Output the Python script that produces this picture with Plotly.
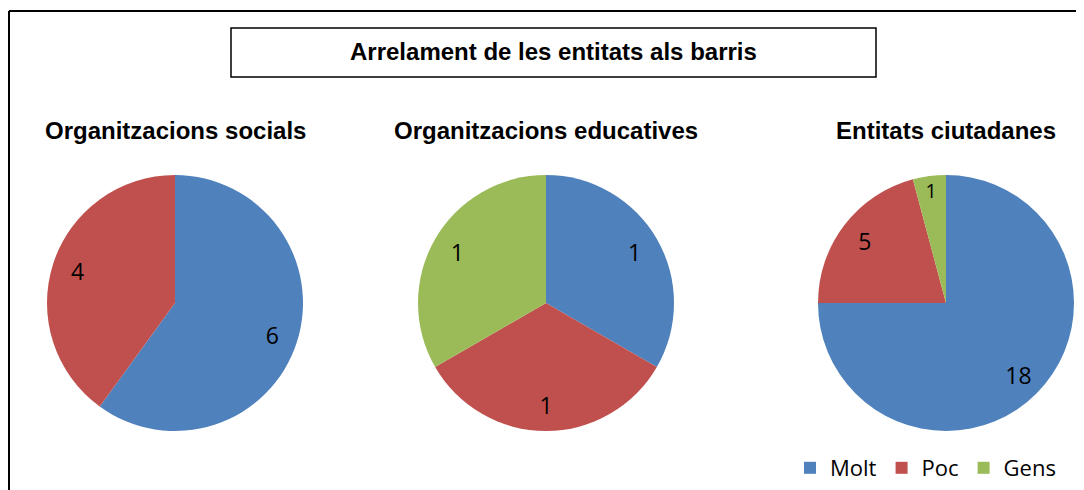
import plotly.graph_objects as go

W, H = 1084, 490
OFF = 8  # page body margin, so reference pixels are shifted by this

categories = ["Molt", "Poc", "Gens"]
colors = ["#4F81BD", "#C0504D", "#9BBB59"]

socials = [6, 4, 0]
educatives = [1, 1, 1]
ciutadanes = [18, 5, 1]

pie_titles = ["Organitzacions socials", "Organitzacions educatives", "Entitats ciutadanes"]
main_title = "Arrelament de les entitats als barris"

# pie centres in reference pixels
centres_x = [175, 546, 946]
centre_y = 303
radius = 128


def px_x(v):
    return (v - OFF) / W


def px_y(v):
    return 1 - (v - OFF) / H


fig = go.Figure()

for i, (vals, title, cx) in enumerate(zip([socials, educatives, ciutadanes], pie_titles, centres_x)):
    dom = dict(x=[px_x(cx - radius), px_x(cx + radius)],
               y=[px_y(centre_y + radius), px_y(centre_y - radius)])
    fig.add_trace(go.Pie(
        labels=categories,
        values=vals,
        sort=False,
        direction="clockwise",
        rotation=0,
        marker=dict(colors=colors, line=dict(width=0)),
        textinfo="none",
        domain=dom,
        showlegend=(i == 2),
        hoverinfo="label+value",
    ))
    # transparent ring on top, only to place the value labels further out
    fig.add_trace(go.Pie(
        labels=categories,
        values=vals,
        sort=False,
        direction="clockwise",
        rotation=0,
        hole=0.6,
        marker=dict(colors=["rgba(0,0,0,0)"] * 3, line=dict(width=0)),
        textinfo="value",
        textposition="inside",
        insidetextorientation="horizontal",
        textfont=dict(family="Open Sans, sans-serif", size=23, color="black"),
        domain=dom,
        showlegend=False,
        hoverinfo="skip",
    ))
    fig.add_annotation(
        x=px_x(cx), y=px_y(130), xref="paper", yref="paper",
        text="<b>" + title + "</b>", showarrow=False,
        font=dict(family="Liberation Sans, Arial, sans-serif", size=24, color="black"),
        xanchor="center", yanchor="middle",
    )

# title box
fig.add_shape(type="rect", xref="paper", yref="paper",
              x0=px_x(231), x1=px_x(876), y0=px_y(77), y1=px_y(28),
              line=dict(color="black", width=1.5), fillcolor="white", layer="below")
fig.add_annotation(
    x=px_x(553), y=px_y(52), xref="paper", yref="paper",
    text="<b>" + main_title + "</b>", showarrow=False,
    font=dict(family="Liberation Sans, Arial, sans-serif", size=24, color="black"),
    xanchor="center", yanchor="middle",
)

# outer frame: top and left edges
fig.add_shape(type="line", xref="paper", yref="paper",
              x0=px_x(9), x1=1, y0=px_y(11), y1=px_y(11),
              line=dict(color="black", width=2))
fig.add_shape(type="line", xref="paper", yref="paper",
              x0=px_x(9), x1=px_x(9), y0=px_y(11), y1=0,
              line=dict(color="black", width=2))

fig.update_layout(
    width=W, height=H,
    margin=dict(l=0, r=0, t=0, b=0),
    paper_bgcolor="white",
    plot_bgcolor="white",
    legend=dict(
        orientation="h",
        x=px_x(1061), y=px_y(468),
        xanchor="right", yanchor="middle",
        font=dict(family="Open Sans, sans-serif", size=22, color="black"),
        itemwidth=30,
        traceorder="normal",
    ),
)

fig.write_html("out.html")
